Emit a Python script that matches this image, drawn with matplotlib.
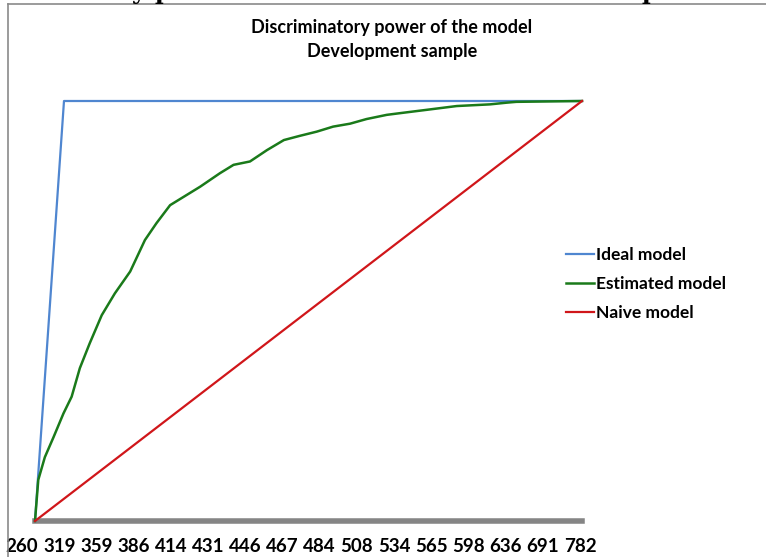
import matplotlib.pyplot as plt
import numpy as np
from matplotlib.lines import Line2D

# cumulative share of population (x) vs. cumulative share of bads (y)
ideal_x = [0.0, 0.053, 1.0]
ideal_y = [0.0, 1.0, 1.0]

est_x = [0.0, 0.006, 0.018, 0.034, 0.052, 0.067, 0.082, 0.100, 0.122, 0.146,
         0.174, 0.201, 0.222, 0.247, 0.277, 0.302, 0.338, 0.363, 0.393, 0.424,
         0.455, 0.484, 0.515, 0.545, 0.576, 0.606, 0.643, 0.667, 0.710, 0.771,
         0.832, 0.862, 0.880, 1.0]
est_y = [0.0, 0.098, 0.152, 0.200, 0.256, 0.296, 0.364, 0.423, 0.490, 0.542,
         0.594, 0.669, 0.709, 0.752, 0.776, 0.796, 0.828, 0.848, 0.856, 0.883,
         0.907, 0.917, 0.927, 0.939, 0.946, 0.957, 0.967, 0.971, 0.978, 0.988,
         0.992, 0.996, 0.998, 1.0]

naive_x = [0.0, 1.0]
naive_y = [0.0, 1.0]

score_labels = ['260', '319', '359', '386', '414', '431', '446', '467', '484',
                '508', '534', '565', '598', '636', '691', '782']

font = 'Lato'
W, H = 766, 557
fig = plt.figure(figsize=(W / 100, H / 100), dpi=100)

# axis from pixel 22 (first label) to 582, line drawn from 35
x_lo = -13 / 547
left_px = 35 + x_lo * 547
ax = fig.add_axes([left_px / W, (H - 521) / H, (582 - left_px) / W, 420 / H])

ax.plot(ideal_x, ideal_y, color='#4f86d0', lw=1.6, label='Ideal model', clip_on=False)
ax.plot(est_x, est_y, color='#1a7a1a', lw=1.8, label='Estimated model', clip_on=False)
ax.plot(naive_x, naive_y, color='#d0161a', lw=1.6, label='Naive model', clip_on=False)

ax.set_xlim(x_lo, 1.0)
ax.set_ylim(0, 1)
for s in ['top', 'right', 'left']:
    ax.spines[s].set_visible(False)
ax.spines['bottom'].set_color('#858585')
ax.spines['bottom'].set_linewidth(4)
ax.spines['bottom'].set_bounds(0, 1)
ax.spines['bottom'].set_zorder(0)
ax.set_yticks([])
ax.set_xticks(np.linspace(x_lo, 1 - 2 / 547, len(score_labels)))
ax.set_xticklabels(score_labels, fontfamily=font, fontweight='bold', fontsize=13.5)
ax.tick_params(axis='x', length=0, pad=12)

fig.text(392 / W, 1 - 27 / H, 'Discriminatory power of the model', ha='center', va='center',
         fontfamily=font, fontweight='bold', fontsize=13)
fig.text(392 / W, 1 - 51 / H, 'Development sample', ha='center', va='center',
         fontfamily=font, fontweight='bold', fontsize=13)

ax.legend(loc='upper left', bbox_to_anchor=(566 / W, 1 - 247 / H), bbox_transform=fig.transFigure,
          frameon=False, handlelength=1.6, handletextpad=0.1, labelspacing=0.75,
          borderpad=0, borderaxespad=0, prop={'family': font, 'weight': 'bold', 'size': 12.5})

# chart border (cut by image edges)
fig.add_artist(Line2D([8 / W, 8 / W], [0, 1 - 4 / H], color='#8a8a8a', lw=1.2))
fig.add_artist(Line2D([8 / W, 1], [1 - 4 / H, 1 - 4 / H], color='#8a8a8a', lw=1.2))

# page text cut off above the chart
for xp, ch in [(138, 'y'), (163, 'p'), (650, 'p')]:
    fig.text(xp / W, 1 + 1 / H, ch, ha='center', va='baseline', fontfamily='DejaVu Serif',
             fontweight='bold', fontsize=17)

fig.savefig('out.png', dpi=100)
